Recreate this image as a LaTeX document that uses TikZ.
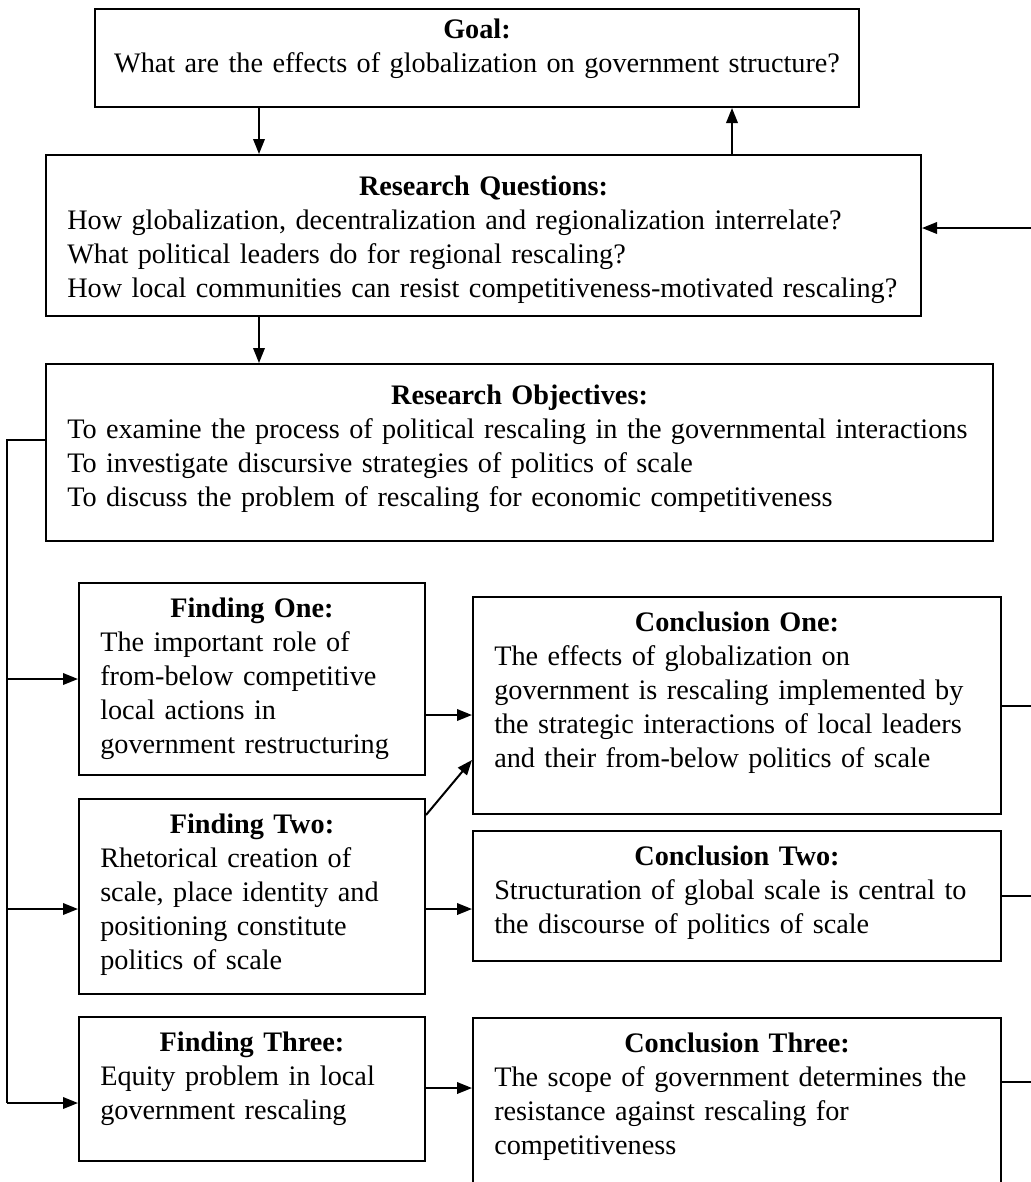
\documentclass[tikz,border=0pt]{standalone}
\usepackage{fontspec}
\setmainfont{Liberation Serif}
\usetikzlibrary{arrows.meta}
\tikzset{
  pbox/.style={draw, line width=0.8pt, anchor=north west, inner xsep=8.5pt, inner ysep=0pt,
    align=left, text height=13.6pt, font=\fontsize{11.3}{13.6}\selectfont},
  arr/.style={line width=0.8pt, -{Triangle[length=6pt,width=4.6pt]}},
  ln/.style={line width=0.8pt}
}
\newcommand{\boxtitle}[1]{\rightskip=-40pt plus 1fil\relax\makebox[\linewidth]{\bfseries #1}\\}
\begin{document}
\begin{tikzpicture}[x=0.4pt, y=-0.4pt]
	\clip (0,0) rectangle (1031,1182);
	% upper boxes
	\node[pbox, align=center, inner xsep=4pt, text width=297.6pt, text height=11.6pt, text depth=27.6pt] (goal) at (94,8) {\makebox[\linewidth]{\bfseries Goal:}\\What are the effects of globalization on government structure?};
	\node[pbox, text width=333pt, text height=16pt, text depth=48.4pt] (rq) at (45,154) {\boxtitle{Research Questions:}How globalization, decentralization and regionalization interrelate?\\What political leaders do for regional rescaling?\\How local communities can resist competitiveness-motivated rescaling?};
	\node[pbox, text width=361.8pt, text height=16pt, text depth=54.8pt] (ro) at (45,363) {\boxtitle{Research Objectives:}To examine the process of political rescaling in the governmental interactions\\To investigate discursive strategies of politics of scale\\To discuss the problem of rescaling for economic competitiveness};
	% findings
	\node[pbox, text width=121.4pt, text depth=63.2pt] (f1) at (78,582) {\boxtitle{Finding One:}The important role of\\from-below competitive\\local actions in\\government restructuring};
	\node[pbox, text width=121.4pt, text depth=64.4pt] (f2) at (78,798) {\boxtitle{Finding Two:}Rhetorical creation of\\scale, place identity and\\positioning constitute\\politics of scale};
	\node[pbox, text width=121.4pt, text depth=44pt] (f3) at (78,1016) {\boxtitle{Finding Three:}Equity problem in local\\government rescaling};
	% conclusions
	\node[pbox, text width=194.2pt, text depth=73.2pt] (c1) at (472,596) {\boxtitle{Conclusion One:}The effects of globalization on\\government is rescaling implemented by\\the strategic interactions of local leaders\\and their from-below politics of scale};
	\node[pbox, text width=194.2pt, text depth=38.4pt] (c2) at (472,830) {\boxtitle{Conclusion Two:}Structuration of global scale is central to\\the discourse of politics of scale};
	\node[pbox, text width=194.2pt, text depth=59.6pt] (c3) at (472,1017) {\boxtitle{Conclusion Three:}The scope of government determines the\\resistance against rescaling for\\competitiveness};
	% helper points
	\coordinate (redge) at (1031,0);
	\coordinate (lx) at (7,0);
	\coordinate (fb) at (1031,228);
	\coordinate (gdown) at ([xshift=66pt]goal.south west);
	\coordinate (gup) at ([xshift=274.8pt]rq.north west);
	\coordinate (rqdown) at (gdown |- rq.south);
	\coordinate (roout) at ([yshift=-30.8pt]ro.north west);
	\coordinate (f1out) at ([yshift=-53.2pt]f1.north east);
	\coordinate (f2in) at ([yshift=-44.4pt]f2.north west);
	\coordinate (f2out) at ([yshift=-44.4pt]f2.north east);
	\coordinate (f3in) at ([yshift=-34.8pt]f3.north west);
	\coordinate (f3out) at ([yshift=-28.8pt]f3.north east);
	\coordinate (c3out) at ([yshift=-26pt]c3.north east);
	% connectors
	\draw[arr] (gdown) -- (gdown |- rq.north);
	\draw[arr] (gup) -- (gup |- goal.south);
	\draw[arr] (fb) -- (fb -| rq.east);
	\draw[arr] (rqdown) -- (rqdown |- ro.north);
	\draw[ln] (roout) -- (roout -| lx) -- (lx |- f3in);
	\draw[arr] (lx |- f1.west) -- (f1.west);
	\draw[arr] (lx |- f2in) -- (f2in);
	\draw[arr] (lx |- f3in) -- (f3in);
	\draw[arr] (f1out) -- (f1out -| c1.west);
	\draw[arr] ([yshift=-6.8pt]f2.north east) -- ([yshift=-65.6pt]c1.north west);
	\draw[arr] (f2out) -- (f2out -| c2.west);
	\draw[arr] (f3out) -- (f3out -| c3.west);
	\draw[ln] (c1.east) -- (c1.east -| redge);
	\draw[ln] (c2.east) -- (c2.east -| redge);
	\draw[ln] (c3out) -- (c3out -| redge);
\end{tikzpicture}
\end{document}
